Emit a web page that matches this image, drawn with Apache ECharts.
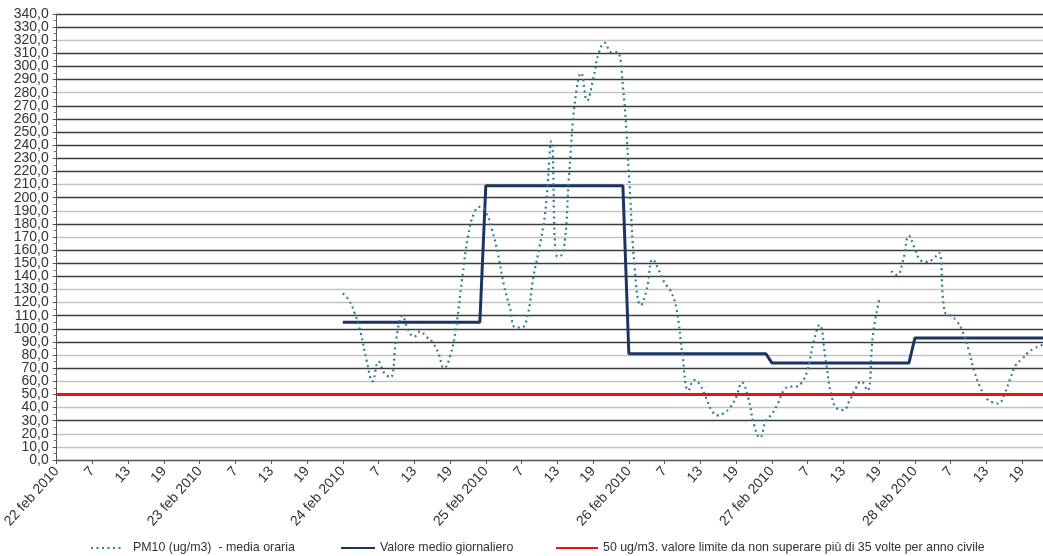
<!DOCTYPE html>
<html>
<head>
<meta charset="utf-8">
<script src="https://cdn.jsdelivr.net/npm/echarts@6/dist/echarts.min.js"></script>
<style>
  html, body { margin: 0; padding: 0; background: #fff; overflow: hidden; width: 1043px; height: 556px; }
  #chart { width: 1056px; height: 556px; }
</style>
</head>
<body>
<div id="chart"></div>
<script>
// ---- data ----
const dayLabels = ['22 feb 2010', '23 feb 2010', '24 feb 2010', '25 feb 2010', '26 feb 2010', '27 feb 2010', '28 feb 2010'];
const hoursOfDay = [1,2,3,4,5,6,7,8,9,10,11,12,13,14,15,16,17,18,19,20,21,22,23,24];

// hourly PM10 (ug/m3), from 24 feb hour 1 to 28 feb hour 24 (earlier hours: no data)
const pm10Hourly = [
  127, 122, 112, 97, 76, 60, 75, 66, 63, 93, 110, 99, 94, 98, 94, 90, 82, 70, 79, 101, 137, 170, 188, 193,
  189, 176, 158, 134, 117, 101, 101, 110, 140, 162, 190, 243, 155, 158, 219, 275, 295, 274, 290, 311, 318, 311, 311, 285,
  219, 145, 118, 130, 153, 145, 135, 129, 115, 80, 53, 61, 57, 47, 37, 34, 36, 40, 48, 59, 48, 27, 17, 30,
  35, 43, 53, 56, 56, 59, 69, 90, 103, 77, 49, 39, 38, 45, 54, 60, 53, 97, 122, null, 144, 141, 152, 171,
  161, 152, 151, 153, 158, 113, 110, 106, 98, 84, 67, 55, 47, 44, 43, 50, 62, 73, 77, 82, 85, 87, 89, 90
];
const pm10StartDay = 2; // index in dayLabels where hourly data begins

// daily mean per day (null = no data)
const dailyMean = [null, null, 105, 209, 81, 74, 93];

// limit value
const limitValue = 50;

// y scale
const yMin = 0, yMax = 340, yStep = 10;

const seriesNames = [
  'PM10 (ug/m3)  - media oraria',
  'Valore medio giornaliero',
  '50 ug/m3. valore limite da non superare più di 35 volte per anno civile'
];

// ---- build tables ----
const categories = [];
const meanSeries = [];
dayLabels.forEach((d, di) => {
  hoursOfDay.forEach(h => {
    categories.push(h === 1 ? d : String(h));
    meanSeries.push(dailyMean[di]);
  });
});
const pm10Series = [];
for (let i = 0; i < pm10StartDay * hoursOfDay.length; i++) pm10Series.push(null);
pm10Hourly.forEach(v => pm10Series.push(v));

// split line colours (bottom to top), mimicking the reference rendering
const D = '#3c3c3c', L = '#c4c4c4';
const gridColors = [D, L, L, D, L, L, L, D, L, D, D, D, L, L, D, D, D, L, D, L, D, L, D, D, D, D, D, D, L, D, D, D, L, D, D];

const chart = echarts.init(document.getElementById('chart'), null, { renderer: 'canvas' });
const font = 'Liberation Sans, Arial, sans-serif';
const fmt = v => v.toFixed(1).replace('.', ',');
const legendBase = {
  top: 542, padding: 0, itemHeight: 14,
  itemStyle: { opacity: 0 }
};

chart.setOption({
  animation: false,
  backgroundColor: '#fff',
  grid: { left: 53, right: 4, top: 14, bottom: 96, containLabel: false },
  legend: [
    Object.assign({}, legendBase, {
      data: [seriesNames[0]], left: 90, itemWidth: 32,
      textStyle: { fontFamily: font, fontSize: 12.4, color: '#333', padding: [0, 0, 0, 5] }
    }),
    Object.assign({}, legendBase, {
      data: [seriesNames[1]], left: 340, itemWidth: 34,
      textStyle: { fontFamily: font, fontSize: 12.4, color: '#333' }
    }),
    Object.assign({}, legendBase, {
      data: [seriesNames[2]], left: 555, itemWidth: 42,
      textStyle: { fontFamily: font, fontSize: 12.4, color: '#333' }
    })
  ],
  xAxis: {
    type: 'category',
    data: categories,
    boundaryGap: false,
    axisLine: { lineStyle: { color: '#555', width: 1 } },
    axisTick: { interval: 5, length: 4, lineStyle: { color: '#555' } },
    axisLabel: {
      interval: 5, rotate: 48, margin: 9,
      fontFamily: font, fontSize: 14, color: '#333'
    },
    splitLine: { show: false }
  },
  yAxis: [
    {
      type: 'value',
      min: yMin, max: yMax, interval: yStep,
      axisLine: { show: true, lineStyle: { color: '#555', width: 1 } },
      axisTick: { show: true, length: 4, lineStyle: { color: '#555' } },
      minorTick: { show: true, splitNumber: 2, length: 3, lineStyle: { color: '#777' } },
      axisLabel: {
        margin: 8, fontFamily: font, fontSize: 14, color: '#333',
        showMinLabel: false, showMaxLabel: false,
        formatter: fmt
      },
      splitLine: { show: true, lineStyle: { color: gridColors, width: 1.3 } }
    },
    {
      // only the two end labels of the same scale
      type: 'value',
      position: 'left',
      min: yMin, max: yMax, interval: yMax - yMin,
      axisLine: { show: false },
      axisTick: { show: false },
      splitLine: { show: false },
      axisLabel: {
        margin: 8, fontFamily: font, fontSize: 14, color: '#333',
        showMinLabel: true, showMaxLabel: true,
        formatter: fmt
      }
    }
  ],
  series: [
    {
      name: seriesNames[0],
      type: 'line',
      data: pm10Series,
      smooth: 0.45,
      connectNulls: false,
      symbol: 'none',
      z: 4,
      itemStyle: { color: '#2f7f96' },
      lineStyle: { color: '#2f7f96', width: 2.2, type: [2, 3.5] }
    },
    {
      name: seriesNames[1],
      type: 'line',
      data: meanSeries,
      symbol: 'none',
      z: 3,
      itemStyle: { color: '#1c3461' },
      lineStyle: { color: '#1c3461', width: 3 }
    },
    {
      name: seriesNames[2],
      type: 'line',
      data: [],
      symbol: 'none',
      z: 2,
      itemStyle: { color: '#ee1111' },
      lineStyle: { color: '#ee1111', width: 3 },
      markLine: {
        silent: true,
        symbol: 'none',
        label: { show: false },
        lineStyle: { color: '#ee1111', width: 3, type: 'solid' },
        data: [{ yAxis: limitValue }]
      }
    }
  ]
});
</script>
</body>
</html>
